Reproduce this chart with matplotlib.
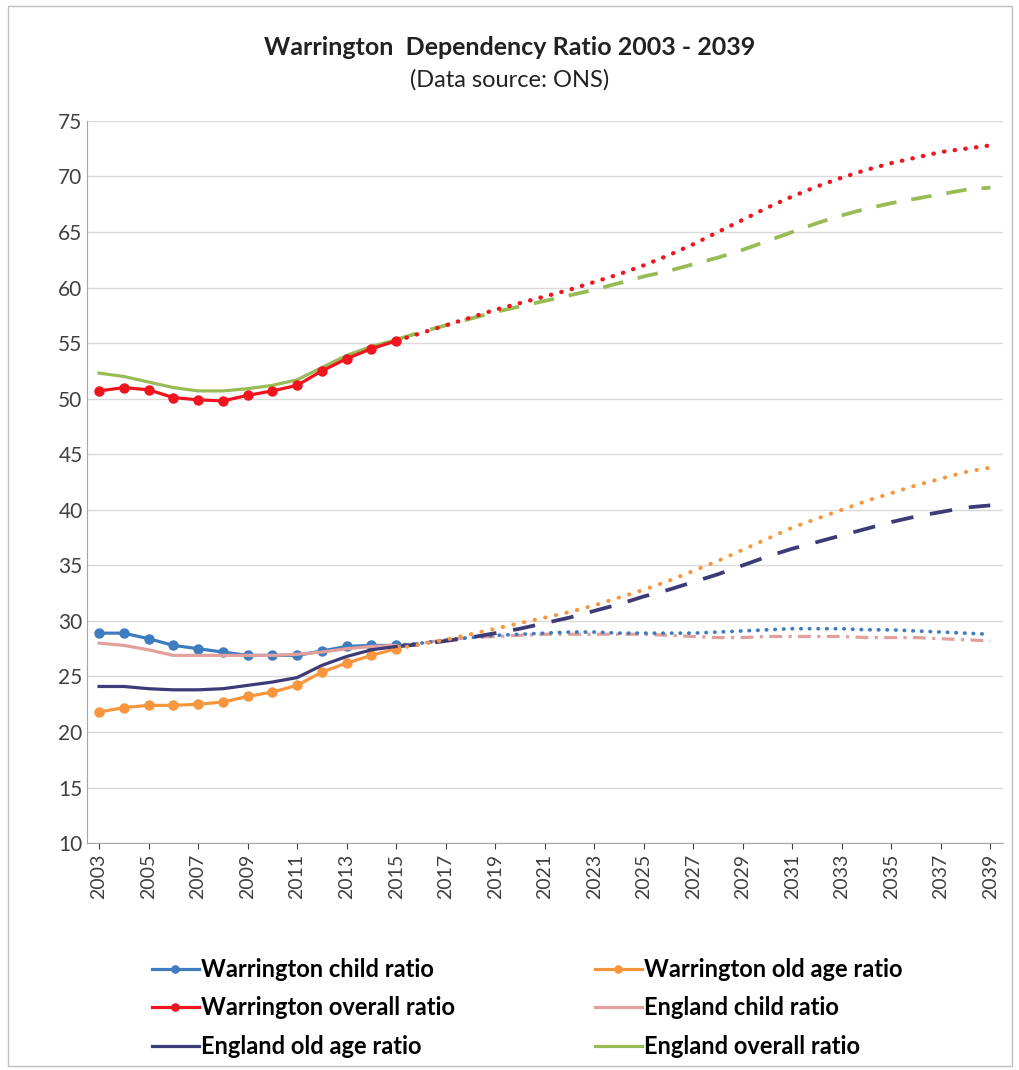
import matplotlib
matplotlib.use('Agg')
import matplotlib.pyplot as plt
from matplotlib.patches import Rectangle

plt.rcParams['font.family'] = ['Lato', 'DejaVu Sans']

# observed years 2003-2015
hist_years = list(range(2003, 2016))
war_child = [28.9, 28.9, 28.4, 27.8, 27.5, 27.2, 26.9, 26.9, 26.9, 27.3, 27.7, 27.8, 27.8]
war_old = [21.8, 22.2, 22.4, 22.4, 22.5, 22.7, 23.2, 23.6, 24.2, 25.4, 26.2, 26.9, 27.5]
war_overall = [50.7, 51.0, 50.8, 50.1, 49.9, 49.8, 50.3, 50.7, 51.2, 52.5, 53.6, 54.5, 55.2]
eng_child = [28.0, 27.8, 27.4, 26.9, 26.9, 26.9, 26.9, 26.9, 27.0, 27.2, 27.5, 27.7, 27.8]
eng_old = [24.1, 24.1, 23.9, 23.8, 23.8, 23.9, 24.2, 24.5, 24.9, 26.0, 26.8, 27.4, 27.7]
eng_overall = [52.3, 52.0, 51.5, 51.0, 50.7, 50.7, 50.9, 51.2, 51.7, 52.8, 53.9, 54.7, 55.3]

# projected years 2015-2039
proj_years = list(range(2015, 2040))
war_child_p = [27.8, 28.0, 28.3, 28.5, 28.7, 28.8, 28.9, 29.0, 29.0, 28.9, 28.9, 28.9, 28.9,
               29.0, 29.1, 29.2, 29.3, 29.3, 29.3, 29.2, 29.2, 29.1, 29.0, 28.9, 28.8]
war_old_p = [27.5, 27.9, 28.3, 28.8, 29.3, 29.8, 30.3, 30.8, 31.4, 32.1, 32.8, 33.6, 34.5,
             35.4, 36.4, 37.4, 38.4, 39.2, 40.0, 40.8, 41.5, 42.2, 42.8, 43.4, 43.8]
war_overall_p = [55.2, 55.9, 56.6, 57.3, 58.0, 58.6, 59.2, 59.8, 60.5, 61.2, 62.0, 62.9, 63.9,
                 65.0, 66.1, 67.2, 68.2, 69.1, 69.9, 70.6, 71.2, 71.7, 72.2, 72.5, 72.8]
eng_child_p = [27.8, 28.0, 28.3, 28.5, 28.6, 28.7, 28.8, 28.8, 28.8, 28.8, 28.8, 28.7, 28.6,
               28.5, 28.5, 28.6, 28.6, 28.6, 28.6, 28.5, 28.5, 28.5, 28.4, 28.3, 28.2]
eng_old_p = [27.7, 27.9, 28.2, 28.5, 28.9, 29.3, 29.8, 30.3, 30.9, 31.5, 32.2, 32.8, 33.5,
             34.2, 35.0, 35.8, 36.5, 37.1, 37.7, 38.3, 38.9, 39.4, 39.8, 40.2, 40.4]
eng_overall_p = [55.3, 56.0, 56.6, 57.2, 57.8, 58.3, 58.8, 59.3, 59.8, 60.4, 61.0, 61.5, 62.1,
                 62.7, 63.4, 64.2, 65.0, 65.8, 66.5, 67.1, 67.6, 68.0, 68.4, 68.8, 69.0]

tick_years = list(range(2003, 2040, 2))

c_blue = '#3E7CC0'
c_orange = '#F7963C'
c_red = '#F0141E'
c_pink = '#E2A09C'
c_navy = '#3D3A78'
c_green = '#98BB55'

fig = plt.figure(figsize=(10.2, 10.7), dpi=100)
fig.patches.append(Rectangle((0.008, 0.004), 0.984, 0.99, transform=fig.transFigure,
                             fill=False, edgecolor='#BFBFBF', linewidth=1))
ax = fig.add_axes([0.085, 0.212, 0.898, 0.675])

lw = 2.3
# projections (no legend entry)
ax.plot(proj_years, eng_child_p, color=c_pink, lw=lw, ls=(0, (4, 2, 1, 2)))
ax.plot(proj_years, war_child_p, color=c_blue, lw=lw + 0.4, ls=(0, (0.1, 2.2)), dash_capstyle='round')
ax.plot(proj_years, eng_old_p, color=c_navy, lw=lw + 0.4, ls=(0, (6, 4.5)))
ax.plot(proj_years, war_old_p, color=c_orange, lw=lw + 0.6, ls=(0, (0.1, 2.6)), dash_capstyle='round')
ax.plot(proj_years, eng_overall_p, color=c_green, lw=lw + 0.4, ls=(0, (5.5, 4)))
ax.plot(proj_years, war_overall_p, color=c_red, lw=lw + 0.8, ls=(0, (0.1, 2.4)), dash_capstyle='round')

# observed
ax.plot(hist_years, war_child, color=c_blue, lw=lw, marker='o', ms=6.5, label='Warrington child ratio')
ax.plot(hist_years, war_old, color=c_orange, lw=lw, marker='o', ms=6.5, label='Warrington old age ratio')
ax.plot(hist_years, eng_overall, color=c_green, lw=lw, label='England overall ratio')
ax.plot(hist_years, war_overall, color=c_red, lw=lw, marker='o', ms=6.5, label='Warrington overall ratio')
ax.plot(hist_years, eng_child, color=c_pink, lw=lw, label='England child ratio')
ax.plot(hist_years, eng_old, color=c_navy, lw=lw, label='England old age ratio')

ax.set_xlim(2002.5, 2039.5)
ax.set_ylim(10, 75)
ax.set_yticks(range(10, 80, 5))
ax.set_xticks(tick_years)
ax.set_xticklabels([str(y) for y in tick_years], rotation=90)
ax.tick_params(axis='x', labelsize=14, colors='#404040', length=4)
ax.tick_params(axis='y', labelsize=15, colors='#404040', length=0, pad=3)
ax.yaxis.grid(True, color='#D9D9D9', lw=1)
ax.set_axisbelow(True)
for s in ['top', 'right']:
    ax.spines[s].set_visible(False)
for s in ['left', 'bottom']:
    ax.spines[s].set_color('#A6A6A6')

fig.text(0.5, 0.956, 'Warrington  Dependency Ratio 2003 - 2039', ha='center', va='center',
         fontsize=18, fontweight='bold', color='#222222')
fig.text(0.5, 0.925, '(Data source: ONS)', ha='center', va='center', fontsize=17, color='#222222')

h, l = ax.get_legend_handles_labels()
# legend fills column-first, reference reads row by row
order = ['Warrington child ratio', 'Warrington overall ratio', 'England old age ratio',
         'Warrington old age ratio', 'England child ratio', 'England overall ratio']
hd = dict(zip(l, h))
leg = fig.legend([hd[k] for k in order], order, ncol=2, loc='center', bbox_to_anchor=(0.517, 0.058),
                 frameon=False, prop={'size': 17, 'weight': 'bold'}, handlelength=2.0,
                 handletextpad=0.1, columnspacing=5.9, labelspacing=0.65, markerscale=0.8)

fig.savefig('out.png', dpi=100)
